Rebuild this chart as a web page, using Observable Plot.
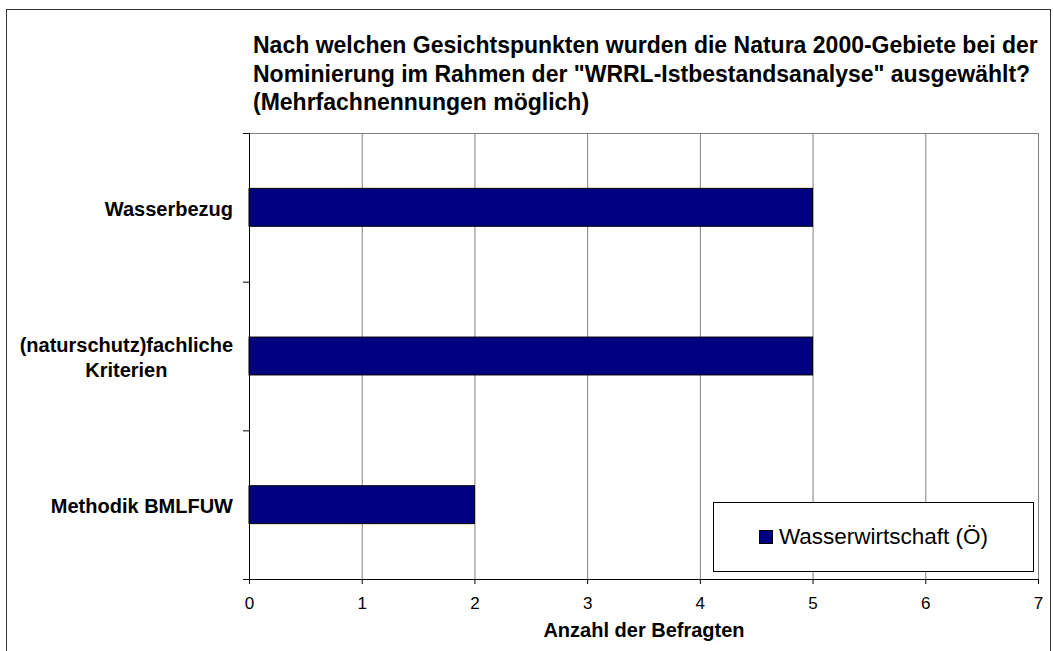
<!DOCTYPE html>
<html>
<head>
<meta charset="utf-8">
<script src="https://cdn.jsdelivr.net/npm/d3@7"></script>
<script src="https://cdn.jsdelivr.net/npm/@observablehq/plot@0.6"></script>
<style>
  html, body { margin: 0; padding: 0; background: #fff; overflow: hidden; }
  body { font-family: "Liberation Sans", Arial, sans-serif; }
  #wrap { position: relative; width: 1053px; height: 651px; overflow: hidden; }
  #border { position: absolute; left: 6px; top: 9px; width: 1045px; height: 660px; border: 1px solid #333; box-sizing: border-box; }
  #title { position: absolute; left: 253px; top: 31px; font-size: 23px; font-weight: bold; line-height: 28.5px; color: #000; white-space: nowrap; }
  #chart { position: absolute; left: 0; top: 0; }
  #legend { position: absolute; left: 713px; top: 502px; width: 321px; height: 70px; box-sizing: border-box; border: 1px solid #000; background: #fff; display: flex; align-items: center; justify-content: center; font-size: 22.5px; }
  #legend .sw { width: 14px; height: 14px; box-sizing: border-box; border: 1px solid #000; margin-right: 6px; }
</style>
</head>
<body>
<div id="wrap">
  <div id="chart"></div>
  <div id="title"></div>
  <div id="legend"></div>
  <div id="border"></div>
</div>
<script>
// ---- data ----
const titleLines = [
  "Nach welchen Gesichtspunkten wurden die Natura 2000-Gebiete bei der",
  "Nominierung im Rahmen der \"WRRL-Istbestandsanalyse\" ausgewählt?",
  "(Mehrfachnennungen möglich)"
];
const categories = ["Wasserbezug", "(naturschutz)fachliche\nKriterien", "Methodik BMLFUW"];
const values = [5, 5, 2];
const seriesName = "Wasserwirtschaft (Ö)";
const xTicks = [0, 1, 2, 3, 4, 5, 6, 7];
const xLabel = "Anzahl der Befragten";
const barColor = "#000080";

// ---- layout ----
const W = 1053, H = 651;
const mL = 249, mR = 15, mT = 133, mB = 72;
const plotW = W - mL - mR;
const step = (H - mT - mB) / categories.length;

const data = categories.map((c, i) => ({category: c, value: values[i]}));

const chart = Plot.plot({
  width: W,
  height: H,
  marginLeft: mL,
  marginRight: mR,
  marginTop: mT,
  marginBottom: mB,
  style: {fontFamily: "'Liberation Sans', Arial, sans-serif", fontSize: "16px", color: "#000", background: "transparent"},
  x: {domain: [xTicks[0], xTicks[xTicks.length - 1]], axis: null, label: null},
  y: {domain: categories, paddingInner: 0.745, paddingOuter: 0.3725, round: false, axis: null, label: null},
  marks: [
    Plot.ruleX(xTicks.slice(1), {x: d => d, stroke: "#808080", strokeWidth: 1}),
    Plot.ruleY([categories[0]], {y: d => d, dy: -step / 2, stroke: "#808080"}),
    Plot.ruleY(categories, {y: d => d, dy: -step / 2, insetLeft: -6, insetRight: plotW, stroke: "#000"}),
    Plot.barX(data, {x: "value", y: "category", fill: barColor, stroke: "#000", strokeWidth: 1}),
    Plot.ruleX([0], {stroke: "#000"}),
    Plot.ruleY([categories[categories.length - 1]], {y: d => d, dy: step / 2, insetLeft: -6, stroke: "#000"}),
    Plot.axisX(xTicks, {anchor: "bottom", tickSize: 5, tickPadding: 12, fontSize: 17, color: "#000", label: null}),
    Plot.text(categories, {y: d => d, frameAnchor: "left", text: d => d, textAnchor: "end", dx: -16.5, fontSize: 20, fontWeight: "bold", lineHeight: 1.25, fill: "#000", className: "ylab"}),
    Plot.text([xLabel], {frameAnchor: "bottom", text: d => d, dy: 57, fontSize: 20, fontWeight: "bold", fill: "#000"})
  ]
});
document.getElementById("chart").appendChild(chart);

// center multi-line category labels on themselves (right edge at the same place)
chart.querySelectorAll(".ylab text").forEach(t => {
  const spans = t.querySelectorAll("tspan");
  if (spans.length > 1) {
    let w = 0;
    spans.forEach(s => { w = Math.max(w, s.getComputedTextLength()); });
    t.setAttribute("text-anchor", "middle");
    spans.forEach(s => s.setAttribute("x", -w / 2));
  }
});

// title
document.getElementById("title").innerHTML = titleLines.map(l => l.replace(/&/g, "&amp;").replace(/</g, "&lt;")).join("<br>");

// legend
const lg = document.getElementById("legend");
const sw = document.createElement("div");
sw.className = "sw";
sw.style.background = barColor;
const lt = document.createElement("span");
lt.textContent = seriesName;
lg.appendChild(sw);
lg.appendChild(lt);
</script>
</body>
</html>
